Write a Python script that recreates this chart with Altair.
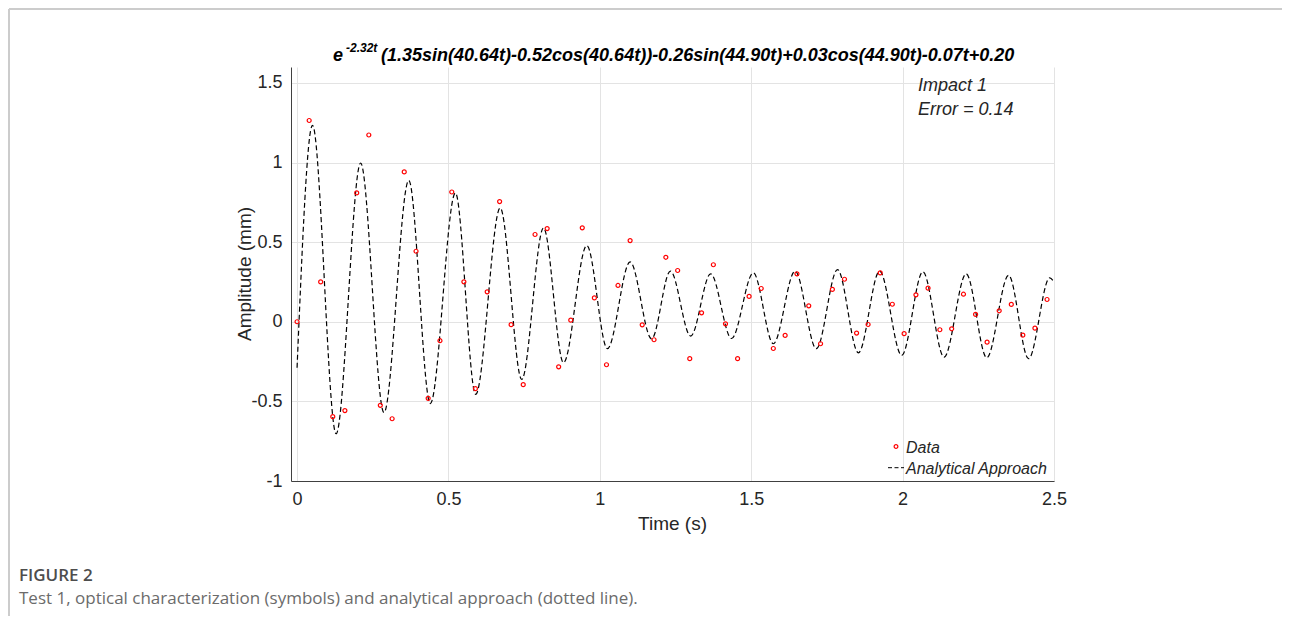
import altair as alt
import pandas as pd

# ---- data ----
data_t = [0.000, 0.040, 0.078, 0.118, 0.158, 0.197, 0.237, 0.275, 0.314, 0.354,
          0.393, 0.433, 0.472, 0.511, 0.551, 0.589, 0.628, 0.669, 0.707, 0.747,
          0.786, 0.826, 0.864, 0.904, 0.942, 0.982, 1.022, 1.060, 1.100, 1.140,
          1.179, 1.218, 1.257, 1.297, 1.336, 1.375, 1.415, 1.455, 1.493, 1.533,
          1.573, 1.612, 1.651, 1.690, 1.729, 1.768, 1.808, 1.848, 1.886, 1.926,
          1.966, 2.005, 2.044, 2.084, 2.123, 2.162, 2.201, 2.241, 2.279, 2.319,
          2.359, 2.397, 2.437, 2.477]
data_v = [0.000, 1.264, 0.250, -0.596, -0.558, 0.809, 1.173, -0.525, -0.609, 0.941,
          0.443, -0.481, -0.119, 0.815, 0.251, -0.420, 0.188, 0.755, -0.018, -0.395,
          0.548, 0.585, -0.283, 0.010, 0.590, 0.150, -0.270, 0.228, 0.510, -0.019,
          -0.113, 0.405, 0.322, -0.232, 0.056, 0.358, -0.013, -0.232, 0.159, 0.209,
          -0.168, -0.086, 0.301, 0.100, -0.138, 0.203, 0.267, -0.071, -0.017, 0.307,
          0.110, -0.075, 0.169, 0.211, -0.050, -0.044, 0.173, 0.046, -0.128, 0.069,
          0.109, -0.084, -0.040, 0.140]

# analytical curve: start, alternating peaks / troughs, end
line_t = [0.000, 0.051, 0.129, 0.210, 0.287, 0.369, 0.440, 0.523, 0.590, 0.671,
          0.742, 0.814, 0.880, 0.957, 1.025, 1.100, 1.171, 1.233, 1.300, 1.366,
          1.435, 1.507, 1.573, 1.645, 1.715, 1.785, 1.854, 1.924, 1.997, 2.067,
          2.137, 2.210, 2.278, 2.350, 2.416, 2.486, 2.500]
line_v = [-0.289, 1.234, -0.703, 0.997, -0.570, 0.888, -0.514, 0.809, -0.456, 0.715,
          -0.362, 0.589, -0.257, 0.479, -0.169, 0.376, -0.107, 0.318, -0.090, 0.301,
          -0.105, 0.307, -0.138, 0.318, -0.169, 0.328, -0.195, 0.318, -0.211, 0.314,
          -0.222, 0.301, -0.226, 0.292, -0.232, 0.276, 0.248]

x_ticks = [0, 0.5, 1, 1.5, 2, 2.5]
y_ticks = [-1, -0.5, 0, 0.5, 1, 1.5]

title_e = "e"
title_sup = "-2.32t"
title_rest = "(1.35sin(40.64t)-0.52cos(40.64t))-0.26sin(44.90t)+0.03cos(44.90t)-0.07t+0.20"
legend_labels = ["Data", "Analytical Approach"]

pts = pd.DataFrame({"t": data_t, "v": data_v})
ln = pd.DataFrame({"t": line_t, "v": line_v})
one = pd.DataFrame({"a": [0]})

FONT = "Liberation Sans"
W, H = 763, 414

xs = alt.X("t:Q", scale=alt.Scale(domain=[-0.02, 2.5], nice=False, zero=False),
           axis=alt.Axis(values=x_ticks, labelExpr="toString(datum.value)", title=None,
                         grid=True, ticks=False, labelPadding=9, labelFontSize=18,
                         labelFont=FONT, labelColor="#262626", domainColor="#404040",
                         gridColor="#e3e3e3", labelFlush=False))
ys = alt.Y("v:Q", scale=alt.Scale(domain=[-1, 1.6], nice=False, zero=False),
           axis=alt.Axis(values=y_ticks, labelExpr="toString(datum.value)", title=None,
                         grid=True, ticks=False, labelPadding=9, labelFontSize=18,
                         labelFont=FONT, labelColor="#262626", domainColor="#404040",
                         gridColor="#e3e3e3", labelFlush=False))

line = alt.Chart(ln).mark_line(color="black", strokeDash=[5, 3], strokeWidth=1.2,
                               interpolate="monotone").encode(x=xs, y=ys)
points = alt.Chart(pts).mark_point(shape="circle", filled=False, color="#ff0000",
                                   size=16, strokeWidth=1.2, opacity=1).encode(x=xs, y=ys)


def txt(text, x, y, size, **kw):
    return alt.Chart(one).mark_text(text=text, fontSize=size, align=kw.pop("align", "left"),
                                    baseline=kw.pop("baseline", "alphabetic"),
                                    font=kw.pop("font", FONT), **kw).encode(
        x=alt.value(x), y=alt.value(y))


layers = [
    # figure frame
    alt.Chart(one).mark_rule(color="#cccccc", strokeWidth=2).encode(
        x=alt.value(-282), x2=alt.value(991), y=alt.value(-58)),
    alt.Chart(one).mark_rule(color="#cccccc", strokeWidth=2).encode(
        x=alt.value(-282), y=alt.value(-58), y2=alt.value(560)),
    line, points,
    # title with superscript
    txt(title_e, 42, -6, 18, fontWeight="bold", fontStyle="italic", color="black"),
    txt(title_sup, 55, -15, 12, fontWeight="bold", fontStyle="italic", color="black"),
    txt(title_rest, 90, -6, 18, fontWeight="bold", fontStyle="italic", color="black"),
    # annotation
    txt("Impact 1", 627, 24, 18, fontStyle="italic", color="#262626"),
    txt("Error = 0.14", 627, 48, 18, fontStyle="italic", color="#262626"),
    # legend
    alt.Chart(one).mark_point(shape="circle", filled=False, color="#ff0000", size=14,
                              strokeWidth=1.2, opacity=1).encode(
        x=alt.value(605), y=alt.value(379.5)),
    alt.Chart(one).mark_rule(color="black", strokeDash=[4, 2.5], strokeWidth=1).encode(
        x=alt.value(597), x2=alt.value(613), y=alt.value(400.7)),
    txt(legend_labels[0], 615, 386, 16, fontStyle="italic", color="#262626"),
    txt(legend_labels[1], 615, 406.5, 16, fontStyle="italic", color="#262626"),
    # axis titles
    txt("Amplitude (mm)", -40, H / 2, 19, angle=270, align="center", color="#262626"),
    txt("Time (s)", W / 2, 463, 19, align="center", color="#262626"),
    # caption
    txt("FIGURE 2", -272, 514, 17, font="Open Sans", fontWeight=600, color="#4d4d4d"),
    txt("Test 1, optical characterization (symbols) and analytical approach (dotted line).",
        -272, 537, 17, font="Open Sans", color="#6b6b6b"),
]

chart = alt.layer(*layers).properties(
    width=W, height=H,
    autosize=alt.AutoSizeParams(type="none"),
    padding={"left": 283, "top": 59, "right": 228, "bottom": 135},
    background="white",
).configure_view(stroke=None)

chart.save("out.html", embed_options={"renderer": "svg", "actions": False})
